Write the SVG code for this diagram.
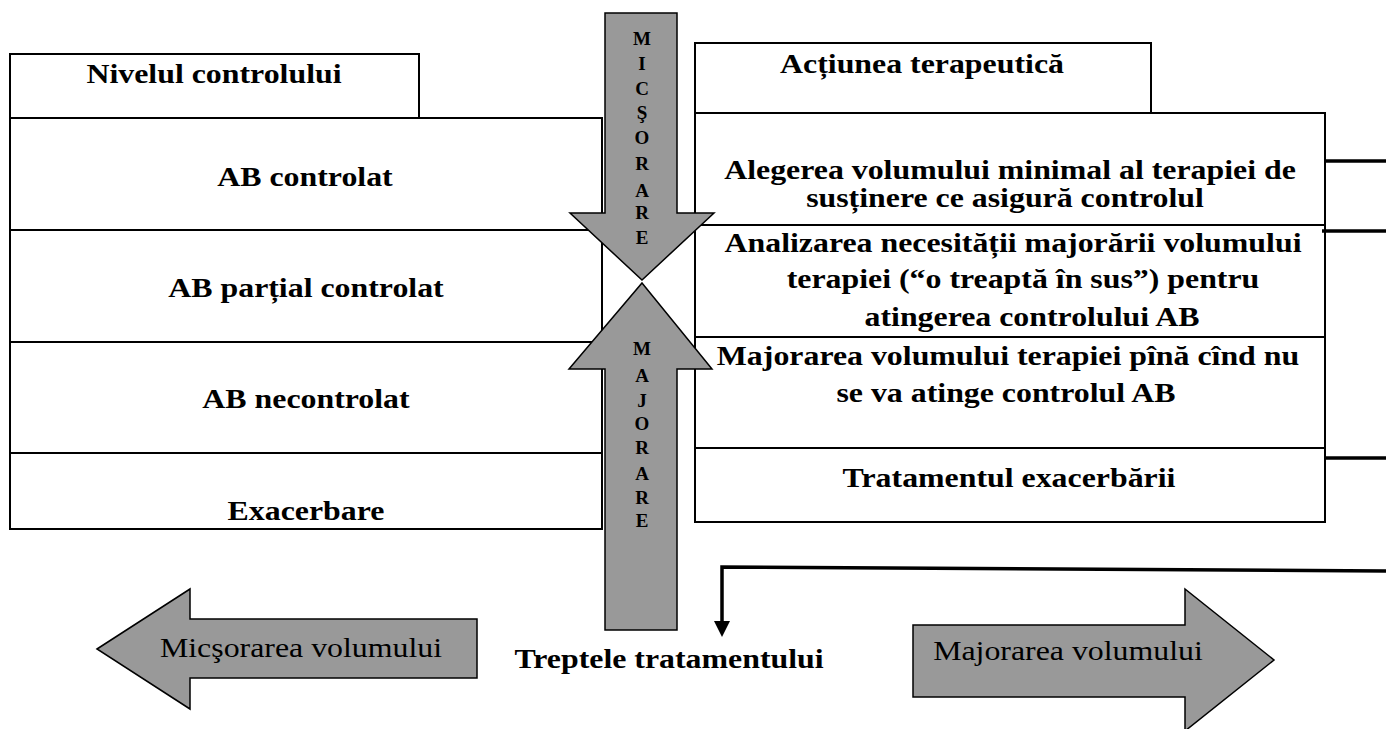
<svg xmlns="http://www.w3.org/2000/svg" width="1386" height="729" viewBox="0 0 1386 729">
<defs>
<style>
.box{fill:#fff;stroke:#000;stroke-width:2}
.ln{stroke:#000;stroke-width:2;fill:none}
.gray{fill:#999;stroke:#000;stroke-width:1.5;stroke-linejoin:miter}
.t{font-family:"Liberation Serif","Times New Roman",serif;font-size:27px;font-weight:bold;text-anchor:middle;fill:#000}
.r{font-family:"Liberation Serif","Times New Roman",serif;font-size:27px;text-anchor:middle;fill:#000}
.v{font-family:"Liberation Serif","Times New Roman",serif;font-size:19px;font-weight:bold;text-anchor:middle;fill:#000}
.con{stroke:#000;stroke-width:3.5;fill:none}
</style>
</defs>
<rect width="1386" height="729" fill="#fff"/>

<g id="left-table">
<rect class="box" x="10" y="54" width="409" height="64"/>
<rect class="box" x="10" y="118" width="592" height="411"/>
<line class="ln" x1="10" y1="230" x2="602" y2="230"/>
<line class="ln" x1="10" y1="342" x2="602" y2="342"/>
<line class="ln" x1="10" y1="453" x2="602" y2="453"/>
<text class="t" transform="translate(214 83) scale(1.18 1)">Nivelul controlului</text>
<text class="t" transform="translate(305 186) scale(1.18 1)">AB controlat</text>
<text class="t" transform="translate(306 297) scale(1.18 1)">AB parțial controlat</text>
<text class="t" transform="translate(306 408) scale(1.18 1)">AB necontrolat</text>
<text class="t" transform="translate(306 520) scale(1.18 1)">Exacerbare</text>
</g>

<g id="right-table">
<rect class="box" x="695" y="43" width="456" height="70"/>
<rect class="box" x="695" y="113" width="630" height="409"/>
<line class="ln" x1="695" y1="225" x2="1325" y2="225"/>
<line class="ln" x1="695" y1="337" x2="1325" y2="337"/>
<line class="ln" x1="695" y1="448" x2="1325" y2="448"/>
<text class="t" transform="translate(922 73) scale(1.18 1)">Acțiunea terapeutică</text>
<text class="t" transform="translate(1010 179) scale(1.18 1)">Alegerea volumului minimal al terapiei de</text>
<text class="t" transform="translate(1005 207) scale(1.18 1)">susținere ce asigură controlul</text>
<text class="t" transform="translate(1013 252) scale(1.18 1)">Analizarea necesității majorării volumului</text>
<text class="t" transform="translate(1023 288) scale(1.18 1)">terapiei (“o treaptă în sus”) pentru</text>
<text class="t" transform="translate(1032 326) scale(1.18 1)">atingerea controlului AB</text>
<text class="t" transform="translate(1008 365) scale(1.18 1)">Majorarea volumului terapiei pînă cînd nu</text>
<text class="t" transform="translate(1006 402) scale(1.18 1)">se va atinge controlul AB</text>
<text class="t" transform="translate(1009 487) scale(1.18 1)">Tratamentul exacerbării</text>
</g>

<g id="arrow-micsorare">
<polygon class="gray" points="605,13 677,13 677,213 714,213 642,280 570,213 605,213"/>
<text class="v" x="642" y="45">M</text>
<text class="v" x="642" y="70">I</text>
<text class="v" x="642" y="95">C</text>
<text class="v" x="642" y="119">Ş</text>
<text class="v" x="642" y="144">O</text>
<text class="v" x="642" y="170">R</text>
<text class="v" x="642" y="197">A</text>
<text class="v" x="642" y="219">R</text>
<text class="v" x="642" y="244">E</text>
</g>

<g id="arrow-majorare">
<polygon class="gray" points="642,283 712,369 677,369 677,630 605,630 605,369 569,369"/>
<text class="v" x="642" y="355">M</text>
<text class="v" x="642" y="382">A</text>
<text class="v" x="642" y="407">J</text>
<text class="v" x="642" y="430">O</text>
<text class="v" x="642" y="454">R</text>
<text class="v" x="642" y="480">A</text>
<text class="v" x="642" y="504">R</text>
<text class="v" x="642" y="527" font-weight="normal">E</text>
</g>

<g id="arrow-left">
<polygon class="gray" points="97,649 190,589 190,619 477,619 477,678 190,678 190,709"/>
<text class="r" transform="translate(301 657) scale(1.18 1)">Micşorarea volumului</text>
</g>

<g id="arrow-right">
<polygon class="gray" points="913,625 1185,625 1185,589 1274,660 1185,731 1185,697 913,697"/>
<text class="r" transform="translate(1068 660) scale(1.18 1)">Majorarea volumului</text>
</g>

<g id="label-trepte">
<text class="t" transform="translate(669 668) scale(1.18 1)">Treptele tratamentului</text>
</g>

<g id="connectors">
<line class="con" x1="1325" y1="161" x2="1386" y2="161"/>
<line class="con" x1="1322" y1="231" x2="1386" y2="231"/>
<line class="con" x1="1325" y1="458" x2="1386" y2="458"/>
<polyline class="con" points="1386,571 722,567 722,624"/>
<polygon points="714,621 730,621 722,637" fill="#000"/>
</g>
</svg>
